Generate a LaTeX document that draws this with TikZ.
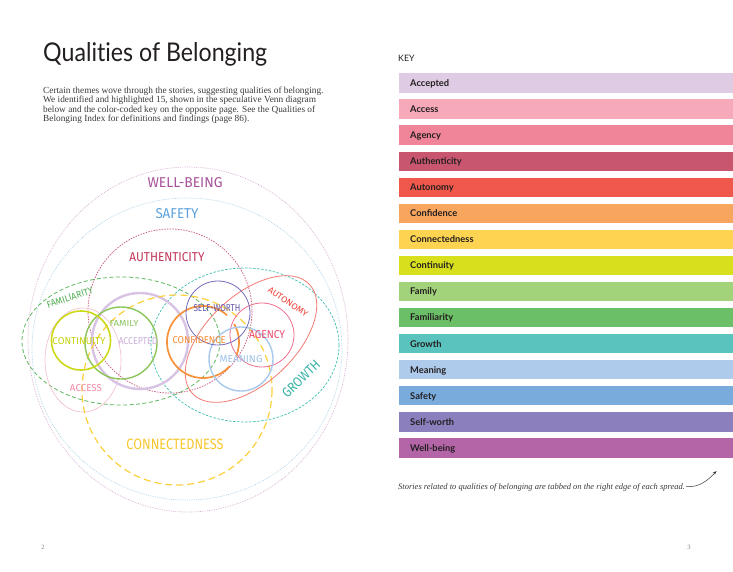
\documentclass[tikz,border=0pt]{standalone}
\usepackage{fontspec}
\usepackage{graphicx}
\setmainfont{Liberation Serif}
\newfontfamily\titlefont[Ligatures=NoCommon]{Lato}
\newfontfamily\keyfont{Lato}
\newfontfamily\vennfont{Fira Sans}
\usetikzlibrary{arrows.meta}
% key colours
\definecolor{kAccepted}{HTML}{DFCBE3}
\definecolor{kAccess}{HTML}{F6A9B8}
\definecolor{kAgency}{HTML}{F08499}
\definecolor{kAuthenticity}{HTML}{C8566F}
\definecolor{kAutonomy}{HTML}{F0584B}
\definecolor{kConfidence}{HTML}{F8A65D}
\definecolor{kConnectedness}{HTML}{FDD352}
\definecolor{kContinuity}{HTML}{D8E01E}
\definecolor{kFamily}{HTML}{A2D27A}
\definecolor{kFamiliarity}{HTML}{6BBF67}
\definecolor{kGrowth}{HTML}{5BC3BD}
\definecolor{kMeaning}{HTML}{AECBEC}
\definecolor{kSafety}{HTML}{79ACDD}
\definecolor{kSelfworth}{HTML}{8B7FBD}
\definecolor{kWellbeing}{HTML}{B465A8}
% line colours
\definecolor{lWb}{HTML}{D4A8D0}
\definecolor{lSafe}{HTML}{A8D0E8}
\definecolor{lAuth}{HTML}{C7557A}
\definecolor{lFamil}{HTML}{5CB85C}
\definecolor{lGrow}{HTML}{3DBFB0}
\definecolor{lConn}{HTML}{FDD03B}
\definecolor{lAccess}{HTML}{F3BCCB}
\definecolor{lAcc}{HTML}{D8C3E4}
\definecolor{lFamily}{HTML}{8CC65B}
\definecolor{lCont}{HTML}{CCD918}
\definecolor{lAuto}{HTML}{F27C74}
\definecolor{lAgency}{HTML}{EE6F8E}
\definecolor{lConf}{HTML}{F7923A}
\definecolor{lMean}{HTML}{A9C9EC}
\definecolor{lSelf}{HTML}{766BBB}
% label colours
\definecolor{tWb}{HTML}{A8519A}
\definecolor{tSafe}{HTML}{5EA2DC}
\definecolor{tAuth}{HTML}{C2355A}
\definecolor{tFamil}{HTML}{4FAE52}
\definecolor{tFamily}{HTML}{8CC560}
\definecolor{tCont}{HTML}{C5D10F}
\definecolor{tAcc}{HTML}{CBB0DC}
\definecolor{tAccess}{HTML}{F28AA3}
\definecolor{tConf}{HTML}{F68B32}
\definecolor{tSelf}{HTML}{6558A8}
\definecolor{tAgency}{HTML}{EA4B6F}
\definecolor{tMean}{HTML}{9FC1E8}
\definecolor{tAuto}{HTML}{EE3F33}
\definecolor{tGrow}{HTML}{36B3A8}
\definecolor{tConn}{HTML}{F8C72E}
\definecolor{inkdark}{HTML}{231F20}
\definecolor{bodyink}{HTML}{3A3A3A}
\newcommand\vlabel[3]{\resizebox{#1pt}{#2pt}{\vennfont #3}}
\begin{document}
\begin{tikzpicture}[x=1pt,y=-1pt,
  vtext/.style={inner sep=0pt},
  keylbl/.style={anchor=base west,inner sep=0pt,text=inkdark,font=\keyfont\bfseries\fontsize{9.3}{10}\selectfont},
  bodyline/.style={anchor=base west,inner sep=0pt,text=bodyink,font=\fontsize{9.3}{9.6}\selectfont},
  wbline/.style={lWb,line width=0.7pt,dash pattern=on 0.7pt off 1.1pt},
  safeline/.style={lSafe,line width=0.7pt,dash pattern=on 0.7pt off 1.1pt},
  authline/.style={lAuth,line width=0.7pt,dash pattern=on 1.5pt off 1.2pt},
  familline/.style={lFamil,line width=0.8pt,dash pattern=on 4pt off 2.5pt},
  growline/.style={lGrow,line width=0.7pt,dash pattern=on 2.5pt off 1.5pt},
  connline/.style={lConn,line width=1.2pt,dash pattern=on 7pt off 4pt},
]
\useasboundingbox (0,0) rectangle (733,571);
\fill[white] (0,0) rectangle (733,571);

% ---------- left page text ----------
\node[anchor=base west,inner sep=0pt,text=inkdark] (title) at (43,61) {\resizebox{224pt}{19pt}{\titlefont Qualities of Belonging}};
\node[bodyline] (body1) at (43,93) {Certain themes wove through the stories, suggesting qualities of belonging.};
\node[bodyline] (body2) at (43,102.6) {We identified and highlighted 15, shown in the speculative Venn diagram};
\node[bodyline] (body3) at (43,112.2) {below and the color-coded key on the opposite page. See the Qualities of};
\node[bodyline] (body4) at (43,121.8) {Belonging Index for definitions and findings (page 86).};

% ---------- Venn diagram ----------
\draw[wbline] (188,339.5) ellipse (160 and 172.5);
\draw[safeline] (187,349) ellipse (155 and 151);
\draw[authline] (170,311) circle (82);
\draw[familline] (121,341) ellipse (99 and 64);
\draw[growline] (245,345) ellipse (94 and 77);
\draw[lAccess,line width=0.6pt] (83,360) ellipse (38 and 52);
\draw[lAcc,line width=2.4pt] (140,341) circle (48);
\draw[connline] (177,390) circle (95);
\draw[lFamily,line width=1.4pt] (121,343) circle (36);
\draw[lCont,line width=1.6pt] (81,340.5) circle (29.5);
\draw[lAuto,line width=0.8pt,rotate around={43:(251,339)}] (251,339) ellipse (80 and 44);
\draw[lAgency,line width=0.8pt] (262,335) circle (32);
\draw[lConf,line width=1.7pt] (203,342) ++(-48:36) arc[start angle=-48,end angle=-318,radius=36];
\draw[lConf,line width=1.7pt] (203,342) ++(-30:36) arc[start angle=-30,end angle=22,radius=36];
\draw[lMean,line width=1.4pt] (241,359) circle (32);
\draw[lSelf,line width=0.8pt] (218,313) circle (32);

% labels
\node[vtext,text=tWb] (wellbeing) at (185,183) {\vlabel{75}{10}{WELL-BEING}};
\node[vtext,text=tSafe] (safety) at (177,214) {\vlabel{43}{10}{SAFETY}};
\node[vtext,text=tAuth] (authenticity) at (167,257) {\vlabel{75}{9}{AUTHENTICITY}};
\node[vtext,text=tFamil,rotate=18] (familiarity) at (70,297.5) {\vlabel{48}{6.5}{FAMILIARITY}};
\node[vtext,text=tFamily] (family) at (124,323) {\vlabel{29}{6}{FAMILY}};
\node[vtext,text=tCont] (continuity) at (79,341) {\vlabel{53}{7}{CONTINUITY}};
\node[vtext,text=tAcc] (accepted) at (138,341) {\vlabel{39}{7}{ACCEPTED}};
\node[vtext,text=tAccess] (access) at (86,388) {\vlabel{32}{7}{ACCESS}};
\node[vtext,text=tConf] (confidence) at (199,340) {\vlabel{53}{7}{CONFIDENCE}};
\node[vtext,text=tSelf] (selfworth) at (217,308) {\vlabel{47}{7}{SELF-WORTH}};
\node[vtext,text=tAgency] (agency) at (267,335) {\vlabel{36}{8}{AGENCY}};
\node[vtext,text=tMean] (meaning) at (241,359) {\vlabel{43}{7}{MEANING}};
\node[vtext,text=tAuto,rotate=-34] (autonomy) at (288,302) {\vlabel{46}{6}{AUTONOMY}};
\node[vtext,text=tGrow,rotate=44] (growth) at (301,379) {\vlabel{47}{9.5}{GROWTH}};
\node[vtext,text=tConn] (connectedness) at (175,444.5) {\vlabel{97}{10.5}{CONNECTEDNESS}};

% ---------- key ----------
\node[anchor=base west,inner sep=0pt,text=inkdark,font=\keyfont\fontsize{8.8}{10}\selectfont] (keyhead) at (398,61.4) {KEY};
\foreach \lbl/\col [count=\i from 0] in {Accepted/kAccepted,Access/kAccess,Agency/kAgency,Authenticity/kAuthenticity,Autonomy/kAutonomy,Confidence/kConfidence,Connectedness/kConnectedness,Continuity/kContinuity,Family/kFamily,Familiarity/kFamiliarity,Growth/kGrowth,Meaning/kMeaning,Safety/kSafety,Self-worth/kSelfworth,Well-being/kWellbeing}{
  \fill[\col] (399,{73.3+26.07*\i}) rectangle (733,{92.6+26.07*\i});
  \node[keylbl] (key\i) at (410,{86.3+26.07*\i}) {\lbl};
}

% footnote
\node[anchor=base west,inner sep=0pt,text=bodyink,font=\itshape\fontsize{8.5}{10}\selectfont] (foot) at (398,489.5) {Stories related to qualities of belonging are tabbed on the right edge of each spread.};
\coordinate (tabedge) at (716.5,471);
\draw[bodyink,line width=0.5pt,-{Stealth[length=4pt,width=3pt]}] ([xshift=1pt,yshift=1pt]foot.east) .. controls (700,488) and (709,479) .. (tabedge);

% page numbers
\node[inner sep=0pt,text=gray,font=\fontsize{6.5}{7}\selectfont] (pagetwo) at (43,547) {2};
\node[inner sep=0pt,text=gray,font=\fontsize{6.5}{7}\selectfont] (pagethree) at (689,547) {3};
\end{tikzpicture}
\end{document}
